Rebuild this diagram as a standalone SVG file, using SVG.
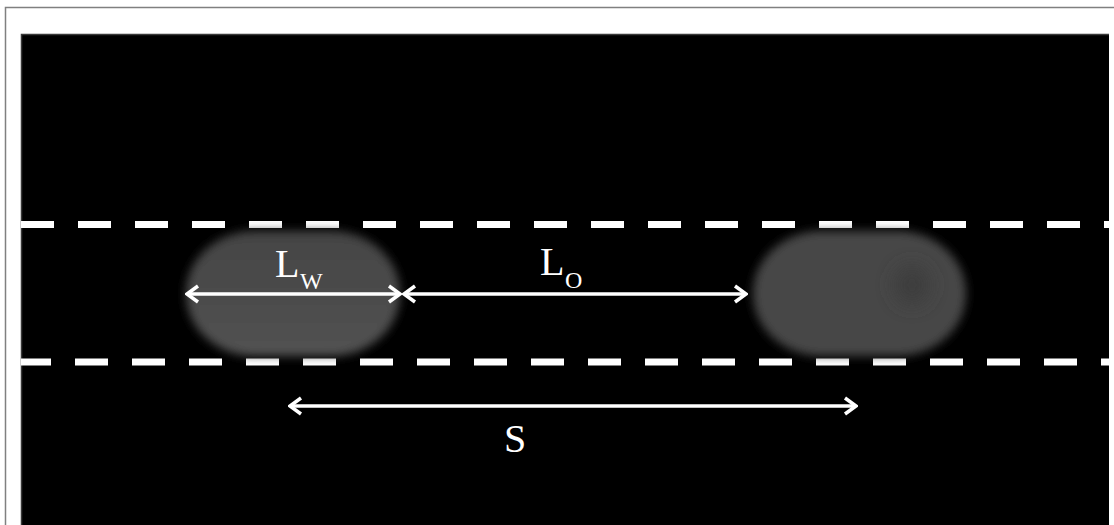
<svg xmlns="http://www.w3.org/2000/svg" width="1114" height="525" viewBox="0 0 1114 525">
  <style>
    .dash { stroke: #ffffff; stroke-width: 7; stroke-dasharray: 33 24; fill: none; }
    .dim { stroke: #ffffff; stroke-width: 3.5; fill: none; marker-start: url(#chev); marker-end: url(#chev); }
    .lbl { font-family: "Liberation Serif", "Times New Roman", serif; fill: #ffffff; }
    .big { font-size: 40px; }
    .sub { font-size: 24px; }
  </style>
  <defs>
    <marker id="chev" viewBox="-14 -10 16 20" refX="0" refY="0" markerWidth="16" markerHeight="20" markerUnits="userSpaceOnUse" orient="auto-start-reverse">
      <path d="M-11,-8 L0,0 L-11,8" stroke="#ffffff" stroke-width="3.5" fill="none" stroke-linejoin="miter"/>
    </marker>
    <filter id="soft" x="-20%" y="-20%" width="140%" height="140%">
      <feGaussianBlur stdDeviation="5"/>
    </filter>
    <filter id="spot" x="-100%" y="-100%" width="300%" height="300%">
      <feGaussianBlur stdDeviation="9"/>
    </filter>
    <linearGradient id="fillL" x1="0" y1="0" x2="0" y2="1">
      <stop offset="0" stop-color="#444444"/>
      <stop offset="1" stop-color="#525252"/>
    </linearGradient>
    <clipPath id="img">
      <rect x="21" y="34" width="1088" height="491"/>
    </clipPath>
  </defs>

  <rect x="0" y="0" width="1114" height="525" fill="#ffffff"/>
  <path d="M5.5,525 L5.5,7.5 L1114,7.5" stroke="#808080" stroke-width="1.5" fill="none"/>
  <rect x="21" y="34" width="1088" height="491" fill="#000000"/>
  <path d="M21.5,525 L21.5,34.5 L1109,34.5" stroke="#3a3a3a" stroke-width="1.5" fill="none"/>

  <g clip-path="url(#img)">
    <g id="channel">
      <line class="dash" x1="21" y1="224.5" x2="1112" y2="224.5"/>
      <line class="dash" x1="18" y1="362" x2="1112" y2="362"/>
    </g>

    <g id="droplet-left">
      <rect x="186" y="231" width="214" height="125" rx="68" ry="62" fill="url(#fillL)" filter="url(#soft)"/>
    </g>

    <g id="droplet-right">
      <rect x="753" y="231" width="213" height="125" rx="68" ry="62" fill="#464646" filter="url(#soft)"/>
      <ellipse cx="912" cy="285" rx="18" ry="20" fill="#3e3e3e" filter="url(#spot)"/>
    </g>

    <g id="connectors">
      <line class="dim" x1="187" y1="294" x2="400" y2="294"/>
      <line class="dim" x1="404" y1="294" x2="746" y2="294"/>
      <line class="dim" x1="290" y1="406" x2="856" y2="406"/>
    </g>

    <g id="label-lw">
      <text class="lbl big" x="275" y="277">L</text>
      <text class="lbl sub" x="300" y="289">W</text>
    </g>
    <g id="label-lo">
      <text class="lbl big" x="540" y="275">L</text>
      <text class="lbl sub" x="565" y="288">O</text>
    </g>
    <g id="label-s">
      <text class="lbl big" x="515" y="452" text-anchor="middle">S</text>
    </g>
  </g>
</svg>
